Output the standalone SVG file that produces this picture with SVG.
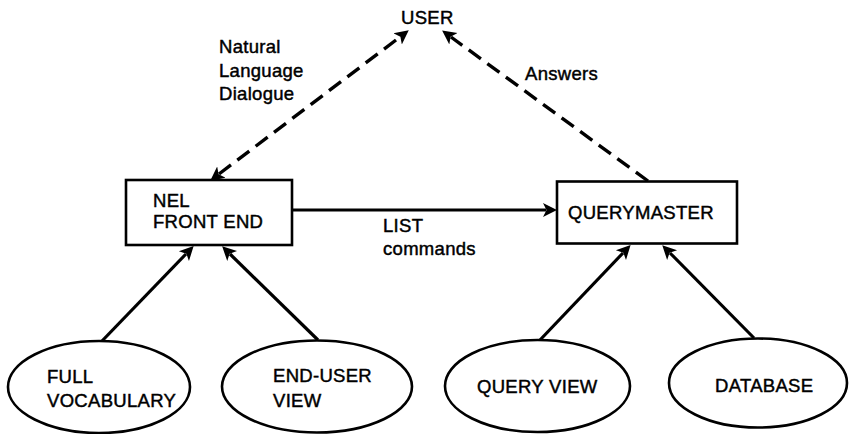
<svg xmlns="http://www.w3.org/2000/svg" width="849" height="434" viewBox="0 0 849 434">
<defs>
<marker id="ah" viewBox="0 -8 16 16" markerUnits="userSpaceOnUse" markerWidth="16" markerHeight="16" refX="3" refY="0" orient="auto-start-reverse">
<path d="M0,-7 L14,0 L0,7 L3.5,0 Z" fill="#000"/>
</marker>
<style>
.t{font-family:"Liberation Sans",Arial,sans-serif;font-size:18.5px;fill:#000;stroke:#000;stroke-width:0.45px;letter-spacing:0.3px}
.box{fill:#fff;stroke:#000;stroke-width:2.6}
.ell{fill:#fff;stroke:#000;stroke-width:2.6}
.solid{stroke:#000;stroke-width:3.2;fill:none;marker-end:url(#ah)}
.dash{stroke:#000;stroke-width:3.4;fill:none;stroke-dasharray:15 8;marker-end:url(#ah)}
</style>
</defs>
<g id="connectors">
<line class="dash" x1="219" y1="174" x2="400" y2="37" marker-start="url(#ah)"/>
<line class="dash" x1="648" y1="181" x2="451" y2="37"/>
<line class="solid" x1="292" y1="210" x2="546" y2="210"/>
<line class="solid" x1="102" y1="341" x2="186" y2="254"/>
<line class="solid" x1="318" y1="340" x2="230" y2="254"/>
<line class="solid" x1="540" y1="340" x2="623" y2="253"/>
<line class="solid" x1="754" y1="338" x2="670" y2="253"/>
<text class="t" x="219" y="53">Natural</text>
<text class="t" x="219" y="77">Language</text>
<text class="t" x="219" y="100">Dialogue</text>
<text class="t" x="525" y="80">Answers</text>
<text class="t" x="383" y="232">LIST</text>
<text class="t" x="383" y="255">commands</text>
</g>
<g id="user">
<text class="t" x="401" y="24">USER</text>
</g>
<g id="nel">
<rect class="box" x="126" y="180" width="166" height="65"/>
<text class="t" x="153" y="207">NEL</text>
<text class="t" x="153" y="228">FRONT END</text>
</g>
<g id="querymaster">
<rect class="box" x="557" y="181.5" width="180" height="62"/>
<text class="t" x="568" y="219">QUERYMASTER</text>
</g>
<g id="fullvocab">
<ellipse class="ell" cx="99" cy="387" rx="91" ry="46"/>
<text class="t" x="47" y="383">FULL</text>
<text class="t" x="47" y="407">VOCABULARY</text>
</g>
<g id="enduser">
<ellipse class="ell" cx="317" cy="386.5" rx="95" ry="46"/>
<text class="t" x="273" y="382">END-USER</text>
<text class="t" x="273" y="407">VIEW</text>
</g>
<g id="queryview">
<ellipse class="ell" cx="537.5" cy="386" rx="92.5" ry="46"/>
<text class="t" x="477" y="393">QUERY VIEW</text>
</g>
<g id="database">
<ellipse class="ell" cx="758" cy="383" rx="89" ry="44.5"/>
<text class="t" x="715" y="392">DATABASE</text>
</g>
</svg>
